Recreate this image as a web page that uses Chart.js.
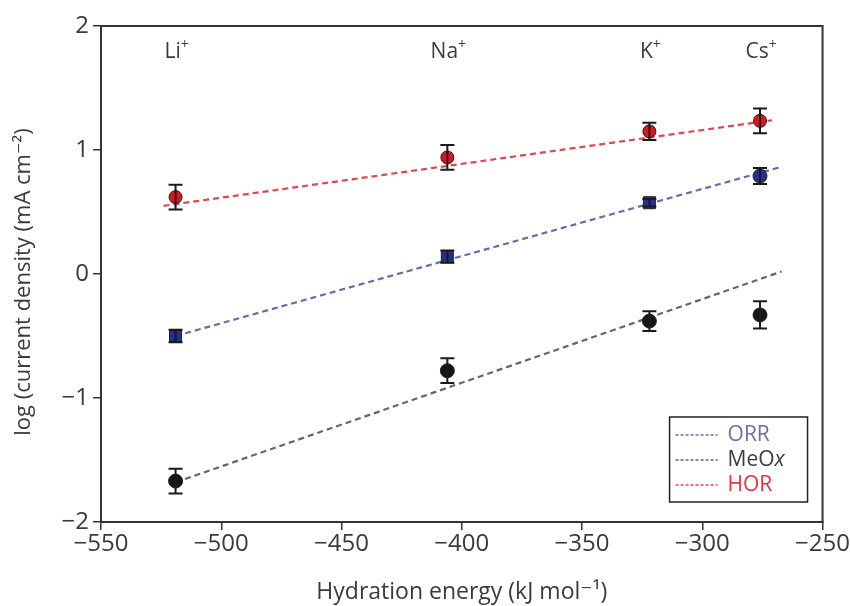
<!DOCTYPE html>
<html>
<head>
<meta charset="utf-8">
<script src="https://cdn.jsdelivr.net/npm/chart.js@4.4.1/dist/chart.umd.min.js"></script>
<style>
  html, body { margin: 0; padding: 0; background: #fff; }
  #wrap { width: 850px; height: 606px; }
</style>
</head>
<body>
<div id="wrap"><canvas id="chart" width="850" height="606"></canvas></div>
<script>
// cations and their hydration energies (kJ/mol)
const ionLabels = ['Li', 'Na', 'K', 'Cs'];
const hydrationEnergy = [-519, -406, -322, -276];

// log current density with error bars
const orrValues = [-0.50, 0.14, 0.575, 0.79];
const orrErrors = [0.05, 0.05, 0.03, 0.065];
const meoxValues = [-1.67, -0.78, -0.38, -0.33];
const meoxErrors = [0.10, 0.10, 0.08, 0.11];
const horValues = [0.62, 0.94, 1.15, 1.235];
const horErrors = [0.10, 0.10, 0.07, 0.10];

// linear fit end points
const orrFitX = [-519, -267];
const orrFitY = [-0.50, 0.865];
const meoxFitX = [-519, -267];
const meoxFitY = [-1.68, 0.02];
const horFitX = [-524, -271];
const horFitY = [0.55, 1.24];

const xTicks = [-550, -500, -450, -400, -350, -300, -250];
const yTicks = [-2, -1, 0, 1, 2];

const FONT = '"Open Sans", "DejaVu Sans", sans-serif';
const AXIS = '#333';
const TEXT = '#3a3a3a';

function pts(xs, ys) {
    return xs.map((x, i) => ({ x: x, y: ys[i] }));
}

function minus(v) {
    return String(v).replace('-', '\u2212');
}

const series = [
    { name: 'ORR', values: orrValues, errors: orrErrors, fitX: orrFitX, fitY: orrFitY,
      fill: '#243090', line: '#6a6ab2', text: '#6f6fae', style: ['rect', 'rect', 'rect', 'circle'], radius: [8.5, 8.5, 8.5, 7] },
    { name: 'MeOx', values: meoxValues, errors: meoxErrors, fitX: meoxFitX, fitY: meoxFitY,
      fill: '#151515', line: '#666', text: '#3c3c3c', style: 'circle', radius: 7 },
    { name: 'HOR', values: horValues, errors: horErrors, fitX: horFitX, fitY: horFitY,
      fill: '#d8161e', line: '#e8434b', text: '#ee3040', style: 'circle', radius: 6.5 }
];

const datasets = [];
series.forEach(s => {
    datasets.push({
        label: s.name + ' fit',
        data: pts(s.fitX, s.fitY),
        showLine: true,
        pointRadius: 0,
        borderColor: s.line,
        borderWidth: 2.2,
        borderDash: [6, 4],
        order: 2
    });
    datasets.push({
        label: s.name,
        data: pts(hydrationEnergy, s.values),
        showLine: false,
        pointStyle: s.style,
        pointRadius: s.radius,
        backgroundColor: s.fill,
        borderColor: '#222',
        borderWidth: 1,
        errors: s.errors,
        order: 1
    });
});

// vertical error bars with caps, frame, ion labels, y title and legend
const extras = {
    id: 'extras',
    afterDatasetsDraw(chart) {
        const ctx = chart.ctx;
        const xs = chart.scales.x, ys = chart.scales.y;
        const area = chart.chartArea;

        ctx.save();
        ctx.strokeStyle = '#1a1a1a';
        ctx.lineWidth = 2;
        chart.data.datasets.forEach(ds => {
            if (!ds.errors) return;
            ds.data.forEach((p, i) => {
                const px = xs.getPixelForValue(p.x);
                const top = ys.getPixelForValue(p.y + ds.errors[i]);
                const bot = ys.getPixelForValue(p.y - ds.errors[i]);
                ctx.beginPath();
                ctx.moveTo(px, top); ctx.lineTo(px, bot);
                ctx.moveTo(px - 7, top); ctx.lineTo(px + 7, top);
                ctx.moveTo(px - 7, bot); ctx.lineTo(px + 7, bot);
                ctx.stroke();
            });
        });

        // box round the plot
        ctx.strokeStyle = AXIS;
        ctx.lineWidth = 2;
        ctx.strokeRect(area.left, area.top, area.right - area.left, area.bottom - area.top);

        // ion labels along the top, with a raised plus sign
        ctx.fillStyle = '#3a3a48';
        ctx.textBaseline = 'alphabetic';
        ctx.textAlign = 'left';
        ionLabels.forEach((t, i) => {
            ctx.font = '21px ' + FONT;
            const w = ctx.measureText(t).width;
            ctx.font = '14px ' + FONT;
            const wp = ctx.measureText('+').width;
            const x0 = xs.getPixelForValue(hydrationEnergy[i]) - (w + wp) / 2 + 1;
            const base = area.top + 32;
            ctx.font = '21px ' + FONT;
            ctx.fillText(t, x0, base);
            ctx.font = '14px ' + FONT;
            ctx.fillText('+', x0 + w, base - 9);
        });

        // y axis title, written upwards
        ctx.save();
        ctx.translate(24, (area.top + area.bottom) / 2 + 8);
        ctx.rotate(-Math.PI / 2);
        ctx.textAlign = 'center';
        ctx.textBaseline = 'middle';
        ctx.fillStyle = TEXT;
        ctx.font = '22px ' + FONT;
        ctx.fillText('log (current density (mA cm⁻²)', 0, 0);
        ctx.restore();

        // legend
        const bw = 138, bh = 85;
        const bx = area.right - 15 - bw, by = area.bottom - 20 - bh;
        ctx.fillStyle = '#fff';
        ctx.fillRect(bx, by, bw, bh);
        ctx.strokeStyle = '#222';
        ctx.lineWidth = 1.5;
        ctx.strokeRect(bx, by, bw, bh);
        ctx.textAlign = 'left';
        ctx.textBaseline = 'middle';
        ctx.font = '21px ' + FONT;
        series.forEach((s, i) => {
            const ly = by + 18 + i * 25;
            ctx.strokeStyle = s.line;
            ctx.lineWidth = 1.6;
            ctx.setLineDash([3, 2]);
            ctx.beginPath();
            ctx.moveTo(bx + 6, ly); ctx.lineTo(bx + 48, ly);
            ctx.stroke();
            ctx.setLineDash([]);
            ctx.fillStyle = s.text;
            if (s.name === 'MeOx') {
                ctx.fillText('MeO', bx + 58, ly);
                const w = ctx.measureText('MeO').width;
                ctx.font = 'italic 21px ' + FONT;
                ctx.fillText('x', bx + 58 + w, ly);
                ctx.font = '21px ' + FONT;
            } else {
                ctx.fillText(s.name, bx + 58, ly);
            }
        });
        ctx.restore();
    }
};

new Chart(document.getElementById('chart'), {
    type: 'scatter',
    data: { datasets },
    plugins: [extras],
    options: {
        responsive: false,
        animation: false,
        layout: { padding: { top: 26, right: 24, left: 0, bottom: 0 } },
        plugins: { legend: { display: false }, tooltip: { enabled: false } },
        scales: {
            x: {
                type: 'linear',
                min: -550, max: -250,
                afterBuildTicks: s => { s.ticks = xTicks.map(v => ({ value: v })); },
                afterFit: s => { s.height = 84; },
                grid: { drawOnChartArea: false, drawTicks: true, tickLength: 8, color: AXIS, lineWidth: 1.5 },
                border: { display: true, color: AXIS, width: 2 },
                ticks: { color: TEXT, font: { family: FONT, size: 24 }, padding: 0, callback: v => minus(v) },
                title: { display: true, text: 'Hydration energy (kJ mol⁻¹)', color: TEXT,
                         font: { family: FONT, size: 23 }, padding: { top: 0, bottom: 0 } }
            },
            y: {
                type: 'linear',
                min: -2, max: 2,
                afterBuildTicks: s => { s.ticks = yTicks.map(v => ({ value: v })); },
                afterFit: s => { s.width = 101; },
                grid: { drawOnChartArea: false, drawTicks: true, tickLength: 8, color: AXIS, lineWidth: 1.5 },
                border: { display: true, color: AXIS, width: 2 },
                ticks: { color: TEXT, font: { family: FONT, size: 24 }, padding: 4, callback: v => minus(v) },
                title: { display: false }
            }
        }
    }
});
</script>
</body>
</html>
